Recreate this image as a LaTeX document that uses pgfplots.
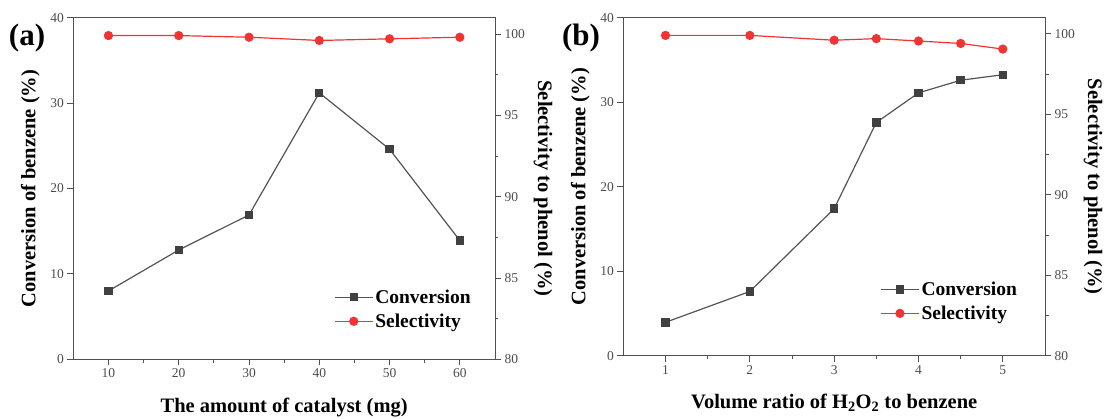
\documentclass[border=0pt]{standalone}
\usepackage{fontspec}
\setmainfont{Liberation Serif}
\usepackage{pgfplots}
\pgfplotsset{compat=1.18}

\definecolor{convc}{RGB}{64,64,64}
\definecolor{selc}{RGB}{240,52,52}
\definecolor{axc}{RGB}{80,80,80}

\pgfplotsset{
  panel/.style={
    scale only axis, width=421.7pt,
    enlargelimits=false,
    axis line style={axc, line width=0.9pt},
    tick style={axc, line width=0.9pt},
    tick align=outside,
    major tick length=6pt, minor tick length=3.5pt,
    tick label style={font=\fontsize{13.5}{15}\selectfont, text=black!70},
    /pgf/number format/assume math mode=true,
    label style={font=\fontsize{20.5}{24}\selectfont\bfseries},
    legend style={draw=none, fill=none, inner sep=0pt, row sep=5pt,
      font=\fontsize{19.5}{22}\selectfont\bfseries},
    legend cell align=left,
    legend image code/.code={\draw[mark repeat=2,mark phase=2,#1] plot coordinates {(0pt,0pt) (19pt,0pt) (38pt,0pt)};},
  },
  convplot/.style={convc!90, line width=1.2pt, mark=square*, mark size=3.6pt,
    mark options={fill=convc, draw=convc, solid}},
  selplot/.style={selc, line width=1.2pt, mark=*, mark size=4pt,
    mark options={fill=selc, draw=selc, solid}},
}

\begin{document}
\begin{tikzpicture}
\path[use as bounding box] (0pt,0pt) rectangle (1105pt,419pt);

% ---- panel (a)
\begin{axis}[panel, at={(73.3pt,59.7pt)}, anchor=south west, height=341.6pt,
  xmin=5, xmax=65, ymin=0, ymax=40,
  xtick={10,20,...,60}, minor x tick num=1,
  ytick={0,10,...,40},
  tick pos=left,
  xlabel={The amount of catalyst (mg)},
  ylabel={Conversion of benzene (\%)},
  xlabel style={at={([yshift=-48pt]axis description cs:0.5,0)}, anchor=center},
  ylabel style={at={([xshift=-43pt]axis description cs:0,0.5)}, anchor=center},
]
\addplot[convplot] coordinates {(10,8.0) (20,12.8) (30,16.9) (40,31.2) (50,24.6) (60,13.9)};
\end{axis}
\begin{axis}[panel, at={(73.3pt,59.7pt)}, anchor=south west, height=341.6pt,
  xmin=5, xmax=65, ymin=80, ymax=101,
  axis x line=none, axis y line*=right,
  ytick={80,85,...,100}, minor y tick num=1,
  ylabel={Selectivity to phenol (\%)},
  ylabel style={at={([xshift=48pt]axis description cs:1,0.5)}, anchor=center, rotate=180},
  legend style={at={(0.618,0.21)}, anchor=north west},
]
\addlegendimage{convplot}
\addlegendentry{Conversion}
\addplot[selplot] coordinates {(10,99.9) (20,99.9) (30,99.8) (40,99.6) (50,99.7) (60,99.8)};
\addlegendentry{Selectivity}
\end{axis}

% ---- panel (b)
\begin{axis}[panel, at={(623.3pt,63.3pt)}, anchor=south west, height=338pt,
  xmin=0.5, xmax=5.5, ymin=0, ymax=40,
  xtick={1,2,...,5}, minor x tick num=1,
  ytick={0,10,...,40},
  tick pos=left,
  xlabel={Volume ratio of H\textsubscript{2}O\textsubscript{2} to benzene},
  ylabel={Conversion of benzene (\%)},
  xlabel style={at={([yshift=-47pt]axis description cs:0.5,0)}, anchor=center},
  ylabel style={at={([xshift=-43pt]axis description cs:0,0.5)}, anchor=center},
]
\addplot[convplot] coordinates {(1,3.95) (2,7.6) (3,17.4) (3.5,27.6) (4,31.1) (4.5,32.6) (5,33.25)};
\end{axis}
\begin{axis}[panel, at={(623.3pt,63.3pt)}, anchor=south west, height=338pt,
  xmin=0.5, xmax=5.5, ymin=80, ymax=101,
  axis x line=none, axis y line*=right,
  ytick={80,85,...,100}, minor y tick num=1,
  ylabel={Selectivity to phenol (\%)},
  ylabel style={at={([xshift=48pt]axis description cs:1,0.5)}, anchor=center, rotate=180},
  legend style={at={(0.609,0.225)}, anchor=north west},
]
\addlegendimage{convplot}
\addlegendentry{Conversion}
\addplot[selplot] coordinates {(1,99.9) (2,99.9) (3,99.6) (3.5,99.7) (4,99.55) (4.5,99.4) (5,99.05)};
\addlegendentry{Selectivity}
\end{axis}

\node[font=\fontsize{31}{34}\selectfont\bfseries] at (27pt,381pt) {(a)};
\node[font=\fontsize{31}{34}\selectfont\bfseries] at (581pt,381pt) {(b)};
\end{tikzpicture}
\end{document}
